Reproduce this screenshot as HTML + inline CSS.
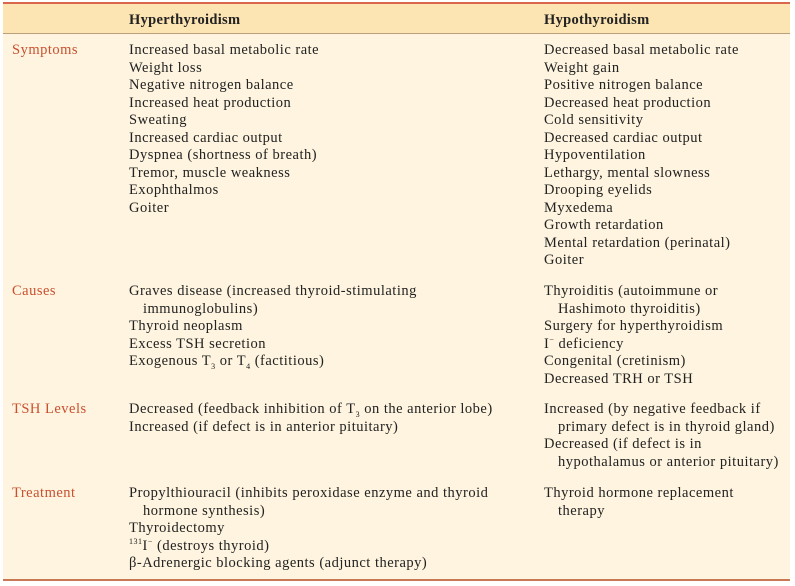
<!DOCTYPE html>
<html><head><meta charset="utf-8"><style>
body{margin:0;width:795px;height:586px;background:#fff;position:relative;overflow:hidden;font-family:"Liberation Serif",serif;font-size:14.5px;color:#222;}
#bg{position:absolute;left:3px;top:2px;width:787px;height:579px;background:#fef4df;}
#hd{position:absolute;left:3px;top:3px;width:787px;height:30px;background:#fce4b3;border-bottom:1px solid #b9a07a;}
#tl{position:absolute;left:3px;top:2px;width:787px;height:2px;background:#d8674c;}
#bl{position:absolute;left:3px;top:579px;width:787px;height:2px;background:#c97855;}
.t{position:absolute;white-space:nowrap;line-height:17.5px;letter-spacing:0.5px;}
.r{color:#c9502f;}
.b{font-weight:bold;letter-spacing:0.3px;}
.i{display:inline-block;width:14px;}
sub,sup{font-size:8px;line-height:0;}
</style></head><body>
<div id="bg"></div><div id="hd"></div><div id="tl"></div><div id="bl"></div>
<div class="t b" style="left:129px;top:12px">Hyperthyroidism</div>
<div class="t b" style="left:544px;top:12px">Hypothyroidism</div>

<div class="t r" style="left:12px;top:42px">Symptoms</div>
<div class="t" style="left:129px;top:42px">Increased basal metabolic rate<br>Weight loss<br>Negative nitrogen balance<br>Increased heat production<br>Sweating<br>Increased cardiac output<br>Dyspnea (shortness of breath)<br>Tremor, muscle weakness<br>Exophthalmos<br>Goiter</div>
<div class="t" style="left:544px;top:42px">Decreased basal metabolic rate<br>Weight gain<br>Positive nitrogen balance<br>Decreased heat production<br>Cold sensitivity<br>Decreased cardiac output<br>Hypoventilation<br>Lethargy, mental slowness<br>Drooping eyelids<br>Myxedema<br>Growth retardation<br>Mental retardation (perinatal)<br>Goiter</div>

<div class="t r" style="left:12px;top:283px">Causes</div>
<div class="t" style="left:129px;top:283px">Graves disease (increased thyroid-stimulating<br><span class="i"></span>immunoglobulins)<br>Thyroid neoplasm<br>Excess TSH secretion<br>Exogenous T<sub>3</sub> or T<sub>4</sub> (factitious)</div>
<div class="t" style="left:544px;top:283px">Thyroiditis (autoimmune or<br><span class="i"></span>Hashimoto thyroiditis)<br>Surgery for hyperthyroidism<br>I<sup>−</sup> deficiency<br>Congenital (cretinism)<br>Decreased TRH or TSH</div>

<div class="t r" style="left:12px;top:401px">TSH Levels</div>
<div class="t" style="left:129px;top:401px">Decreased (feedback inhibition of T<sub>3</sub> on the anterior lobe)<br>Increased (if defect is in anterior pituitary)</div>
<div class="t" style="left:544px;top:401px">Increased (by negative feedback if<br><span class="i"></span>primary defect is in thyroid gland)<br>Decreased (if defect is in<br><span class="i"></span>hypothalamus or anterior pituitary)</div>

<div class="t r" style="left:12px;top:485px">Treatment</div>
<div class="t" style="left:129px;top:485px">Propylthiouracil (inhibits peroxidase enzyme and thyroid<br><span class="i"></span>hormone synthesis)<br>Thyroidectomy<br><sup>131</sup>I<sup>−</sup> (destroys thyroid)<br>β-Adrenergic blocking agents (adjunct therapy)</div>
<div class="t" style="left:544px;top:485px">Thyroid hormone replacement<br><span class="i"></span>therapy</div>
</body></html>
